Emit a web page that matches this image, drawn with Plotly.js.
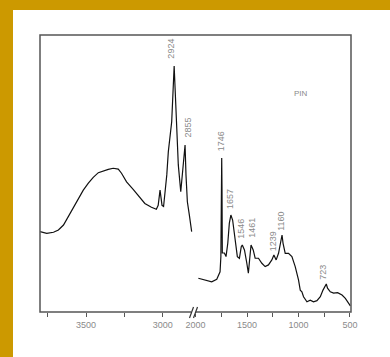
<!DOCTYPE html>
<html><head><meta charset="utf-8">
<script src="https://cdn.plot.ly/plotly-3.0.1.min.js"></script>
<style>
html,body{margin:0;padding:0;background:#fff;}
#wrap{width:377px;height:347px;border-left:13px solid #CC9900;border-top:10px solid #CC9900;background:#fff;}
#chart{width:377px;height:347px;}
</style></head>
<body><div id="wrap"><div id="chart"></div></div>
<script>
// Left segment (high wavenumber)
const wnLeft = [3800,3788,3756,3712,3680,3647,3615,3582,3550,3518,3485,3453,3420,3388,3355,3323,3290,3269,3236,3193,3160,3117,3074,3042,3030,3018,3005,2995,2974,2964,2942,2926,2920,2909,2899,2883,2866,2855,2849,2840,2827,2812];
const tLeft  = [29.0,28.8,28.4,28.8,29.6,31.4,34.4,38.0,41.0,44.0,46.5,48.6,50.3,51.0,51.5,51.9,51.6,50.1,47.0,44.3,42.2,39.2,37.8,37.1,38.5,44.0,38.5,38.1,49.5,57.9,68.7,88.8,80.9,62.8,53.1,43.4,55.6,60.3,49.5,39.8,35.0,29.0];
// Right segment (fingerprint region)
const wnRight = [1973,1908,1843,1794,1762,1754,1750,1746,1743,1740,1720,1704,1687,1672,1657,1640,1617,1594,1574,1556,1546,1525,1502,1487,1475,1461,1440,1421,1389,1356,1324,1292,1259,1239,1217,1194,1160,1150,1129,1097,1064,1032,1000,983,967,951,918,886,854,821,788,762,730,718,691,659,620,577,545,513,496];
const tRight  = [12.2,11.6,10.9,11.8,14.5,20.0,44.0,55.6,44.0,21.3,21.3,20.0,24.8,32.0,35.0,33.2,26.0,20.0,19.4,23.6,24.2,22.4,17.6,14.0,18.8,24.2,22.4,19.4,19.4,17.6,16.4,17.0,18.8,20.6,18.8,21.2,27.8,24.8,21.2,21.2,20.0,16.4,11.6,7.9,7.3,5.5,3.7,4.3,3.7,4.1,5.5,7.9,10.1,8.6,7.3,6.8,7.0,6.1,4.9,3.1,2.2];

// Peak labels
const peakTextL = ["2924","2855"];
const peakXL    = [2948,2836];
const peakYL    = [95,66.6];
const peakTextR = ["1746","1657","1546","1461","1239","1160","723"];
const peakXR    = [1752,1665,1567,1460,1246,1171,759];
const peakYR    = [61.7,40.8,30.1,30.5,25.6,32.9,14.3];
const sampleName = "PIN";

const tickValsL = [3750,3500,3250,3000];
const tickTextL = ["","3500","","3000"];
const tickValsR = [2000,1750,1500,1250,1000,750,500];
const tickTextR = ["2000","","1500","","1000","","500"];

const split = (193.5-40)/311;
const lbl = {family:"Liberation Sans, Arial, sans-serif", size:9, color:"#8a8a8a"};

const traces = [
  {x:wnLeft, y:tLeft, xaxis:"x", yaxis:"y", mode:"lines", line:{color:"#111", width:1.2}, hoverinfo:"skip"},
  {x:wnRight, y:tRight, xaxis:"x2", yaxis:"y", mode:"lines", line:{color:"#111", width:1.2}, hoverinfo:"skip"}
];

const annotations = [];
peakTextL.forEach((t,i)=>annotations.push({x:peakXL[i], y:peakYL[i], xref:"x", yref:"y", text:t, textangle:-90, showarrow:false, font:lbl}));
peakTextR.forEach((t,i)=>annotations.push({x:peakXR[i], y:peakYR[i], xref:"x2", yref:"y", text:t, textangle:-90, showarrow:false, font:lbl}));
annotations.push({x:973, y:79, xref:"x2", yref:"y", text:sampleName, showarrow:false, font:{family:"Liberation Sans, Arial, sans-serif", size:8, color:"#8a8a8a"}});

const px = v => (v-40)/311, py = v => (312-v)/277;
const shapes = [
  {type:"rect", xref:"paper", yref:"paper", x0:0, x1:1, y0:0, y1:1, line:{color:"#555", width:1.5}},
  {type:"rect", xref:"paper", yref:"paper", x0:px(191), x1:px(196), y0:py(314), y1:py(310), fillcolor:"#fff", line:{width:0}},
  {type:"line", xref:"paper", yref:"paper", x0:px(189.5), x1:px(193.5), y0:py(318), y1:py(307), line:{color:"#333", width:1.2}},
  {type:"line", xref:"paper", yref:"paper", x0:px(193.5), x1:px(197.5), y0:py(318), y1:py(307), line:{color:"#333", width:1.2}}
];

const axBase = {showgrid:false, zeroline:false, showline:false, ticks:"outside", ticklen:4, tickwidth:1, tickcolor:"#555",
  tickfont:{family:"Liberation Sans, Arial, sans-serif", size:9, color:"#8a8a8a"}, fixedrange:true};

const layout = {
  width:377, height:347,
  margin:{l:27, r:39, t:25, b:45},
  paper_bgcolor:"#fff", plot_bgcolor:"#fff",
  showlegend:false,
  xaxis: Object.assign({}, axBase, {domain:[0,split], range:[3800,2800], tickmode:"array", tickvals:tickValsL, ticktext:tickTextL, anchor:"y"}),
  xaxis2: Object.assign({}, axBase, {domain:[split,1], range:[2020,490], tickmode:"array", tickvals:tickValsR, ticktext:tickTextR, anchor:"y"}),
  yaxis: {range:[0,100], showgrid:false, zeroline:false, showline:false, showticklabels:false, ticks:"", fixedrange:true},
  annotations: annotations,
  shapes: shapes
};

Plotly.newPlot("chart", traces, layout, {staticPlot:true, displayModeBar:false});
</script></body></html>
